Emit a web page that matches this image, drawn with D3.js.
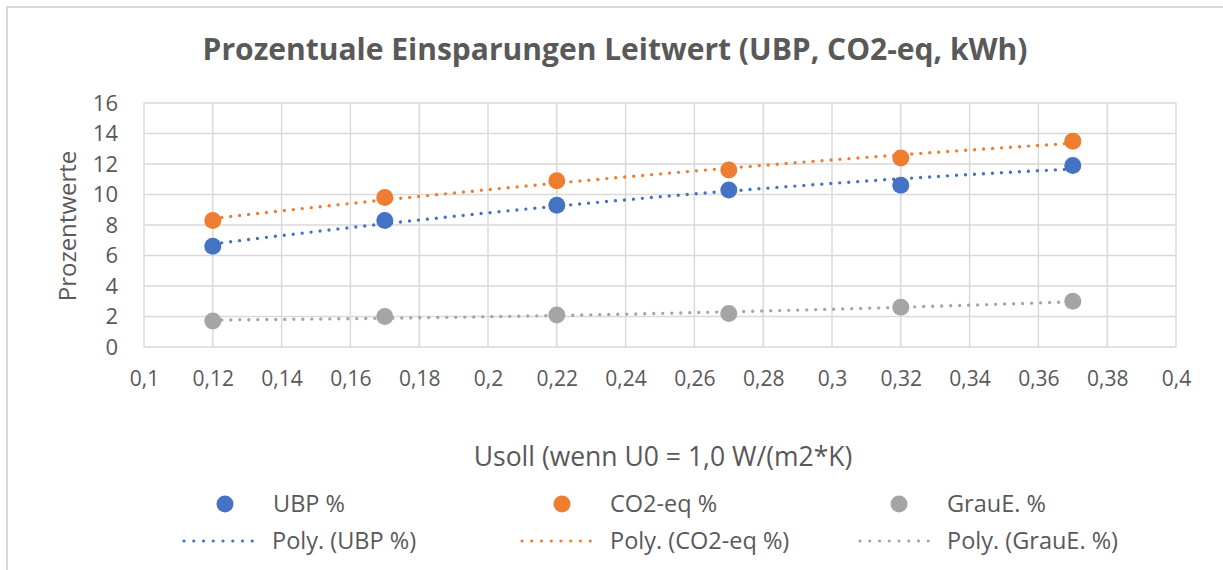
<!DOCTYPE html>
<html><head><meta charset="utf-8">
<script src="https://cdn.jsdelivr.net/npm/d3@7"></script>
<style>html,body{margin:0;padding:0;background:#fff;overflow:hidden}</style>
</head><body>
<svg id="c" width="1223" height="570"></svg>
<script>
const xValues = [0.12, 0.17, 0.22, 0.27, 0.32, 0.37];
const ubp = [6.6, 8.3, 9.3, 10.3, 10.6, 11.9];
const co2 = [8.3, 9.8, 10.9, 11.6, 12.4, 13.5];
const graue = [1.7, 2.0, 2.1, 2.2, 2.6, 3.0];
const seriesNames = ["UBP %", "CO2-eq %", "GrauE. %"];
const trendNames = ["Poly. (UBP %)", "Poly. (CO2-eq %)", "Poly. (GrauE. %)"];
const colors = ["#4472C4", "#ED7D31", "#A5A5A5"];
const xTicks = [0.1,0.12,0.14,0.16,0.18,0.2,0.22,0.24,0.26,0.28,0.3,0.32,0.34,0.36,0.38,0.4];
const yTicks = [0,2,4,6,8,10,12,14,16];
const title = "Prozentuale Einsparungen Leitwert (UBP, CO2-eq, kWh)";
const xTitle = "Usoll (wenn U0 = 1,0 W/(m2*K)";
const yTitle = "Prozentwerte";

const series = [ubp, co2, graue];
const svg = d3.select("#c");
const txt = "#595959", grid = "#d9d9d9";
const font = "'Open Sans', 'Noto Sans', sans-serif";

// outer border
svg.append("path").attr("d","M7,575 L7,7 L1230,7").attr("fill","none").attr("stroke","#d9d9d9").attr("stroke-width",2);

const x = d3.scaleLinear().domain([0.1,0.4]).range([144,1176]);
const y = d3.scaleLinear().domain([0,16]).range([347,103]);

// grid
svg.append("g").selectAll("line").data(yTicks).join("line")
  .attr("x1",x(0.1)).attr("x2",x(0.4)).attr("y1",d=>y(d)).attr("y2",d=>y(d))
  .attr("stroke",grid).attr("stroke-width",1.5);
svg.append("g").selectAll("line").data(xTicks).join("line")
  .attr("y1",y(0)).attr("y2",y(16)).attr("x1",d=>x(d)).attr("x2",d=>x(d))
  .attr("stroke",grid).attr("stroke-width",1.5);

// axes labels
const fmt = d => String(+d.toFixed(2)).replace(".", ",");
const xa = svg.append("g").attr("transform",`translate(0,${y(0)})`)
  .call(d3.axisBottom(x).tickValues(xTicks).tickFormat(fmt).tickSize(0).tickPadding(24));
xa.select(".domain").remove();
xa.selectAll("text").attr("fill",txt).style("font-family",font).style("font-size","21px");
const ya = svg.append("g").attr("transform",`translate(${x(0.1)},0)`)
  .call(d3.axisLeft(y).tickValues(yTicks).tickFormat(d3.format("d")).tickSize(0).tickPadding(26));
ya.select(".domain").remove();
ya.selectAll("text").attr("fill",txt).style("font-family",font).style("font-size","22px");

// titles
svg.append("text").attr("x",615).attr("y",60).attr("text-anchor","middle")
  .attr("fill",txt).style("font-family",font).style("font-weight","700").style("font-size","30px")
  .text(title);
svg.append("text").attr("x",663).attr("y",466).attr("text-anchor","middle")
  .attr("fill",txt).style("font-family",font).style("font-size","26.5px").text(xTitle);
svg.append("text").attr("transform",`translate(76,226) rotate(-90)`).attr("text-anchor","middle")
  .attr("fill",txt).style("font-family",font).style("font-size","24px").text(yTitle);

// quadratic least squares fit (Excel polynomial trendline, order 2)
function polyfit(xs, ys){
  const n = xs.length; let S=[0,0,0,0,0], T=[0,0,0];
  for(let i=0;i<n;i++){ for(let k=0;k<5;k++) S[k]+=Math.pow(xs[i],k); for(let k=0;k<3;k++) T[k]+=ys[i]*Math.pow(xs[i],k); }
  const A=[[S[0],S[1],S[2],T[0]],[S[1],S[2],S[3],T[1]],[S[2],S[3],S[4],T[2]]];
  for(let i=0;i<3;i++){ let p=A[i][i]; for(let j=i;j<4;j++) A[i][j]/=p;
    for(let r=0;r<3;r++) if(r!==i){ const f=A[r][i]; for(let j=i;j<4;j++) A[r][j]-=f*A[i][j]; } }
  return [A[0][3],A[1][3],A[2][3]];
}
const line = d3.line().x(d=>x(d[0])).y(d=>y(d[1]));
series.forEach((s,i)=>{
  const c = polyfit(xValues, s);
  const pts = d3.range(0,101).map(k=>{ const xv = xValues[0] + (xValues[xValues.length-1]-xValues[0])*k/100; return [xv, c[0]+c[1]*xv+c[2]*xv*xv]; });
  svg.append("path").attr("d",line(pts)).attr("fill","none").attr("stroke",colors[i])
    .attr("stroke-width",3.4).attr("stroke-linecap","round").attr("stroke-dasharray","0 9");
});
series.forEach((s,i)=>{
  svg.append("g").selectAll("circle").data(s).join("circle")
    .attr("cx",(d,j)=>x(xValues[j])).attr("cy",d=>y(d)).attr("r",8.5).attr("fill",colors[i]);
});

// legend
const legX = [225, 562, 899];
const legTextX = [273, 610, 947];
const lineX = [184, 522, 860];
const lineTextX = [272, 610, 947];
seriesNames.forEach((n,i)=>{
  svg.append("circle").attr("cx",legX[i]).attr("cy",504).attr("r",8.5).attr("fill",colors[i]);
  svg.append("text").attr("x",legTextX[i]).attr("y",512).attr("fill",txt)
    .style("font-family",font).style("font-size","23.5px").text(n);
});
trendNames.forEach((n,i)=>{
  svg.append("line").attr("x1",lineX[i]).attr("x2",lineX[i]+78).attr("y1",541).attr("y2",541)
    .attr("stroke",colors[i]).attr("stroke-width",3.2).attr("stroke-linecap","round").attr("stroke-dasharray","0 9.75");
  svg.append("text").attr("x",lineTextX[i]).attr("y",549).attr("fill",txt)
    .style("font-family",font).style("font-size","23.5px").text(n);
});
</script>
</body></html>
